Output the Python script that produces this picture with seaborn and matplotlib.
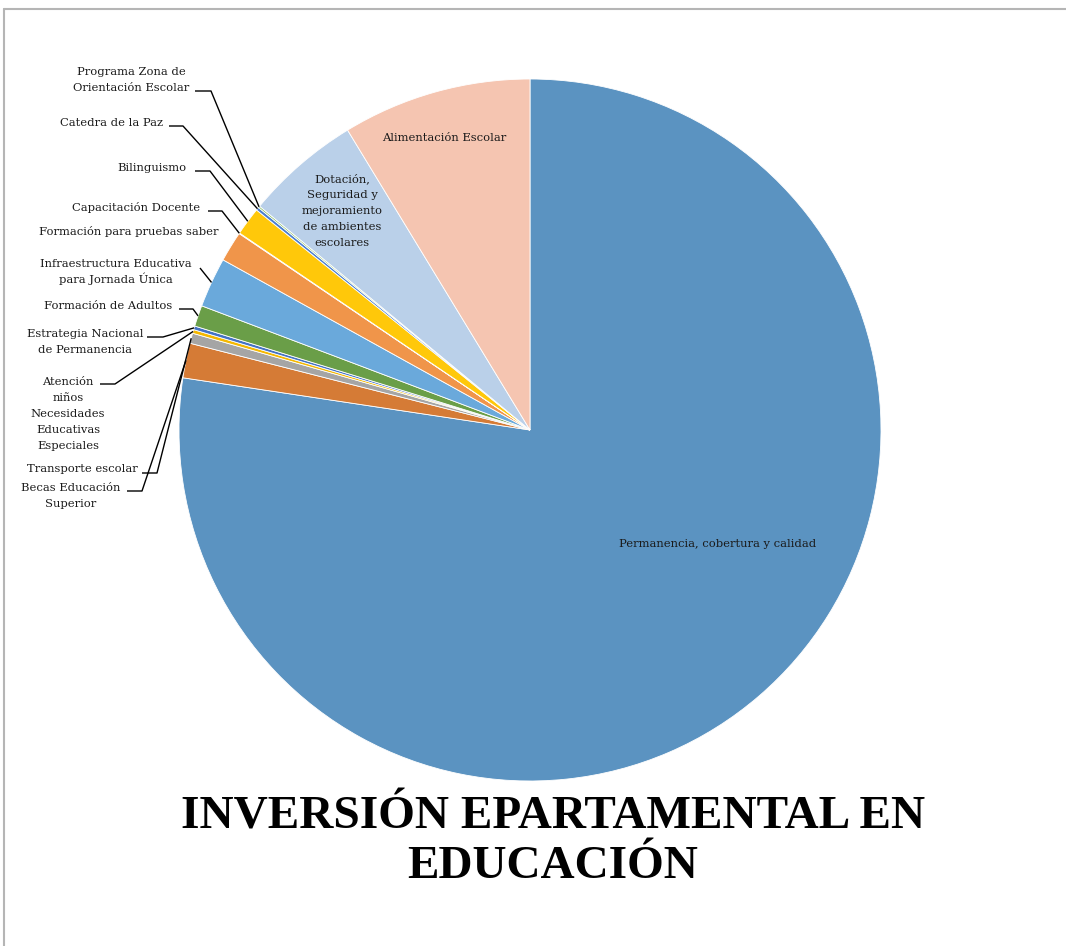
import matplotlib
matplotlib.use("Agg")
import matplotlib.pyplot as plt
from matplotlib.lines import Line2D
import numpy as np
import seaborn as sns

# Data (share of the departmental education budget, %)
categories = [
    "Permanencia, cobertura y calidad",
    "Becas Educación\nSuperior",
    "Transporte escolar",
    "Atención\nniños\nNecesidades\nEducativas\nEspeciales",
    "Estrategia Nacional\nde Permanencia",
    "Formación de Adultos",
    "Infraestructura Educativa\npara Jornada Única",
    "Formación para pruebas saber",
    "Capacitación Docente",
    "Bilinguismo",
    "Catedra de la Paz",
    "Programa Zona de\nOrientación Escolar",
    "Dotación,\nSeguridad y\nmejoramiento\nde ambientes\nescolares",
    "Alimentación Escolar",
]
shares = [77.4, 1.6, 0.47, 0.17, 0.17, 0.97, 2.3, 1.4, 0.03, 1.3, 0.14, 0.08, 5.3, 8.7]
colors = ["#5B93C1", "#D57B36", "#A5A5A5", "#F5B800", "#4472C4", "#6A9E48", "#6AA9DB",
          "#F0954A", "#B7B7B7", "#FFC80A", "#4A7ED0", "#8CC168", "#BAD0E9", "#F5C5B1"]

W, H = 1066, 946
cx, cy, r = 530, 430, 351

sns.set_theme(style="white")
plt.rcParams['font.family'] = ['DejaVu Serif', 'DejaVu Sans']

fig = plt.figure(figsize=(W / 100, H / 100), dpi=100)
fig.patch.set_facecolor("white")
ax = fig.add_axes([(cx - r) / W, (H - cy - r) / H, 2 * r / W, 2 * r / H])
wedges, _ = ax.pie(shares, colors=colors, startangle=90, counterclock=False,
                   wedgeprops=dict(edgecolor="white", linewidth=0.6))
ax.set_xlim(-1, 1)
ax.set_ylim(-1, 1)
ax.axis("off")


def to_data(px, py):
    return (px - cx) / r, (cy - py) / r


def anchor(i):
    w = wedges[i]
    a = np.deg2rad((w.theta1 + w.theta2) / 2)
    return np.cos(a), np.sin(a)


fs = 8.25
pitch = 16  # px between label lines


def label(text, px, py):
    lines = text.split("\n")
    n = len(lines)
    for k, line in enumerate(lines):
        y = py + (k - (n - 1) / 2) * pitch + 4
        fig.text(px / W, 1 - y / H, line, ha="center", va="baseline",
                 fontsize=fs, color="#1a1a1a")


# labels inside the big slices
inside = {0: (718, 543), 12: (342, 210), 13: (444, 137)}
for i, (px, py) in inside.items():
    label(categories[i], px, py)

# outside labels: index -> (text centre x, text centre y, leader start, leader elbow)
outside = {
    11: (131, 79, (195, 91), (211, 91)),
    10: (111, 122, (169, 126), (183, 126)),
    9: (152, 167, (195, 171), (210, 171)),
    8: (136, 207, (208, 211), (222, 211)),
    7: (129, 231, None, None),
    6: (116, 271, (200, 268), None),
    5: (108, 305, (179, 309), (193, 309)),
    4: (85, 341, (147, 337), (163, 337)),
    3: (68, 413, (100, 384), (115, 384)),
    2: (82, 468, (142, 473), (157, 473)),
    1: (71, 495, (127, 491), (142, 491)),
}
for i, (px, py, start, elbow) in outside.items():
    label(categories[i], px, py)
    if start is None:
        continue
    pts = [to_data(*start)]
    if elbow is not None:
        pts.append(to_data(*elbow))
    pts.append(anchor(i))
    xs, ys = zip(*pts)
    ax.plot(xs, ys, color="black", lw=1, clip_on=False, solid_capstyle="butt")

# title, two lines with baselines as in the original
for line, base in [("INVERSIÓN EPARTAMENTAL EN", 828), ("EDUCACIÓN", 878)]:
    fig.text(553 / W, 1 - base / H, line, ha="center", va="baseline",
             fontsize=34, fontweight="bold", family="Liberation Serif", color="black")

# chart frame (top and left edges visible in the crop)
fig.add_artist(Line2D([4 / W, 1], [1 - 9.5 / H, 1 - 9.5 / H], color="#B5B5B5", lw=1.5))
fig.add_artist(Line2D([4 / W, 4 / W], [0, 1 - 9.5 / H], color="#B5B5B5", lw=1.5))

fig.savefig("out.png", dpi=100, facecolor="white")
